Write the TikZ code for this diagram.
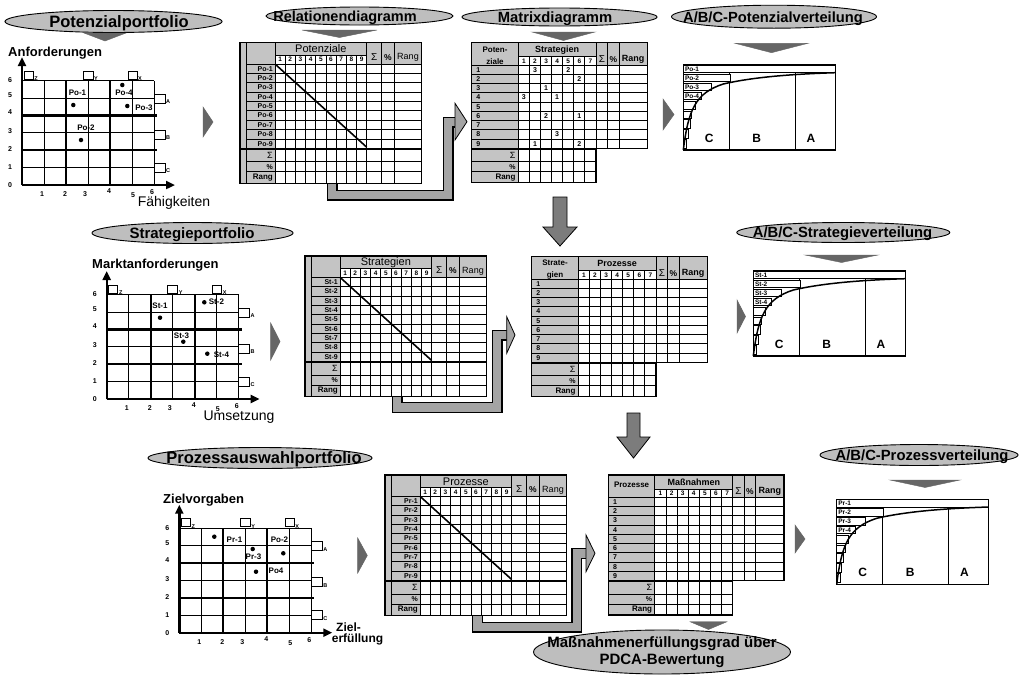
\documentclass[tikz,border=0pt]{standalone}
\usepackage{fontspec}
\setmainfont{Liberation Sans}
\usetikzlibrary{shapes.geometric,arrows.meta}
\definecolor{tgray}{HTML}{C4C4C4}
\definecolor{egray}{HTML}{BEBEBE}
\definecolor{dgray}{HTML}{666666}
\definecolor{agray}{HTML}{A4A4A4}
\definecolor{mgray}{HTML}{7C7C7C}
\newcommand\fsz[1]{\fontsize{#1}{#1}\selectfont}
\tikzset{
  titleell/.style={ellipse, draw=black, line width=0.9pt, fill=egray, inner sep=0pt},
  ttext/.style={inner sep=0pt, anchor=base, font=\fsz{15}\bfseries},
  tri/.style={fill=dgray, draw=black!60, line width=0.4pt},
  chev/.style={fill=dgray, draw=black!60, line width=0.5pt},
  blockarrow/.style={fill=mgray, draw=black, line width=0.8pt},
  tick/.style={font=\fsz{7}\bfseries, inner sep=0pt},
  plab/.style={font=\fsz{8}\bfseries, inner sep=0pt},
  axlab/.style={font=\fsz{13}\bfseries, inner sep=0pt},
  axlabr/.style={font=\fsz{14}, inner sep=0pt},
  pdot/.style={circle, fill=black, inner sep=0pt, minimum size=4.5pt},
  sq/.style={draw=black, fill=white, line width=0.9pt},
  sqlab/.style={font=\fsz{5.5}\bfseries, inner sep=0pt},
  tline/.style={line width=0.9pt},
  gline/.style={line width=0.7pt},
  thk/.style={line width=2.2pt},
  cell/.style={font=\fsz{7}\bfseries, inner sep=0pt},
  hdr/.style={font=\fsz{9}\bfseries, inner sep=0pt},
  barlab/.style={font=\fsz{6.5}\bfseries, inner sep=0pt, anchor=west},
  abclab/.style={font=\fsz{12}\bfseries, inner sep=0pt},
  bandout/.style={line width=11pt, draw=black, line join=miter},
  bandin/.style={line width=8.4pt, draw=agray, line join=miter},
  headarrow/.style={fill=agray, draw=black, line width=0.8pt},
}
% ---------- portfolio ----------
\newcommand\portfolio[1]{%
  \foreach \i in {0,...,6} {\draw[gline] ({\i*22},0) -- ({\i*22},-104.4);}
  \foreach \j in {0,...,6} {\draw[gline] (0,{-\j*17.4}) -- (132,{-\j*17.4});}
  \draw[thk] (44,0) -- (44,-104.4);
  \draw[thk] (88,0) -- (88,-104.4);
  \draw[thk] (0,-34.8) -- (135,-34.8);
  \draw[thk] (0,-69.6) -- (135,-69.6);
  \draw[line width=2.4pt,-{Triangle[length=9pt,width=8pt]}] (0,0) -- (153,0);
  \draw[line width=2.4pt,-{Triangle[length=9pt,width=8pt]}] (0,0) -- (0,-128);
  \foreach \v/\yy in {0/0,1/-18,2/-36,3/-54,4/-73,5/-90,6/-105} {\node[tick] (#1-y\v) at (-12,\yy) {\v};}
  \foreach \v/\xx/\yy in {1/20/9,2/43/9,3/63/9,4/87/6,5/111/10,6/130/7} {\node[tick] (#1-x\v) at (\xx,\yy) {\v};}
  \draw[sq] (2,-114) rectangle (11,-106); \node[sqlab] (#1-sz) at (14,-106.5) {Z};
  \draw[sq] (61,-114) rectangle (71,-106); \node[sqlab] (#1-sy) at (74,-106.5) {Y};
  \draw[sq] (106,-114) rectangle (115,-106); \node[sqlab] (#1-sx) at (118,-106.5) {X};
  \draw[sq] (132,-91) rectangle (143,-82); \node[sqlab] (#1-sa) at (146,-83.5) {A};
  \draw[sq] (132,-55) rectangle (143,-46); \node[sqlab] (#1-sb) at (146,-47.5) {B};
  \draw[sq] (132,-22) rectangle (143,-13); \node[sqlab] (#1-sc) at (146,-14.5) {C};
}
% ---------- relation table ----------
\newcommand\reltable[3]{%
  \fill[tgray] (0,0) rectangle (181.7,140.6);
  \fill[white] (35,12.3) rectangle (126.7,140.6);
  \fill[white] (126.7,21.3) rectangle (181.7,140.6);
  \foreach \j in {0,...,8} {\draw[tline] (6,{21.3+\j*9.37}) -- (181.7,{21.3+\j*9.37});}
  \draw[line width=1.8pt] (0,106) -- (181.7,106);
  \draw[tline] (6,119) -- (181.7,119);
  \draw[tline] (6,129) -- (181.7,129);
  \draw[tline] (35,12.3) -- (126.7,12.3);
  \draw[tline] (6,0) -- (6,140.6);
  \draw[tline] (35,0) -- (35,140.6);
  \foreach \i in {1,...,8} {\draw[tline] ({35+\i*10.19},12.3) -- ({35+\i*10.19},140.6);}
  \foreach \xx in {126.7,141.7,154.3} {\draw[tline] (\xx,0) -- (\xx,140.6);}
  \draw[line width=1.3pt] (0,0) rectangle (181.7,140.6);
  \draw[line width=1.6pt] (35,21.3) -- (126.7,104.5);
  \node[font=\fsz{11}, inner sep=0pt] (#1-title) at (80.85,6.3) {#2};
  \foreach \i in {1,...,9} {\node[font=\fsz{6.5}\bfseries, inner sep=0pt] (#1-n\i) at ({35+(\i-0.5)*10.19},16.9) {\i};}
  \node[font=\fsz{10}, inner sep=0pt] (#1-sum) at (134.2,14) {Σ};
  \node[font=\fsz{8.5}\bfseries, inner sep=0pt] (#1-pct) at (148,15) {\%};
  \node[font=\fsz{9}, inner sep=0pt] (#1-rang) at (168,15) {Rang};
  \foreach \j in {1,...,9} {\node[cell, anchor=east] (#1-r\j) at (33,{21.3+(\j-0.5)*9.37}) {#3-\j};}
  \node[font=\fsz{9}, anchor=east, inner sep=0pt] (#1-bs) at (33,112.8) {Σ};
  \node[cell, anchor=east] (#1-bp) at (33,124) {\%};
  \node[font=\fsz{8}\bfseries, anchor=east, inner sep=0pt] (#1-br) at (33,135) {Rang};
}
% ---------- matrix table ----------
\newcommand\mattable[4]{%
  \fill[tgray] (0,0) -- (175.6,0) -- (175.6,105.6) -- (124.3,105.6) -- (124.3,140) -- (0,140) -- cycle;
  \fill[white] (46.6,14) rectangle (124.3,140);
  \fill[white] (124.3,22.3) rectangle (175.6,105.6);
  \foreach \j in {0,...,8} {\draw[tline] (0,{22.3+\j*9.26}) -- (175.6,{22.3+\j*9.26});}
  \draw[line width=1.8pt] (0,106.3) -- (124.3,106.3);
  \draw[tline] (0,119) -- (124.3,119);
  \draw[tline] (0,129) -- (124.3,129);
  \draw[tline] (46.6,14) -- (124.3,14);
  \draw[tline] (46.6,0) -- (46.6,140);
  \foreach \i in {1,...,6} {\draw[tline] ({46.6+\i*11.1},14) -- ({46.6+\i*11.1},140);}
  \draw[tline] (124.3,0) -- (124.3,140);
  \draw[tline] (136,0) -- (136,105.6);
  \draw[tline] (147.3,0) -- (147.3,105.6);
  \draw[line width=1.3pt] (0,0) -- (175.6,0) -- (175.6,105.6) -- (124.3,105.6) -- (124.3,140) -- (0,140) -- cycle;
  \node[font=\fontsize{8}{11.5}\selectfont\bfseries, align=center, inner sep=0pt] (#1-head) at (23.3,#3) {#2};
  \node[hdr] (#1-title) at (85.45,7) {#4};
  \foreach \i in {1,...,7} {\node[font=\fsz{6.5}\bfseries, inner sep=0pt] (#1-n\i) at ({46.6+(\i-0.5)*11.1},18.3) {\i};}
  \node[font=\fsz{10}, inner sep=0pt] (#1-sum) at (130.2,16) {Σ};
  \node[font=\fsz{8.5}\bfseries, inner sep=0pt] (#1-pct) at (141.7,16.5) {\%};
  \node[hdr] (#1-rang) at (161.5,16.5) {Rang};
  \foreach \j in {1,...,9} {\node[cell, anchor=west] (#1-r\j) at (4.5,{22.3+(\j-0.5)*9.26}) {\j};}
  \node[font=\fsz{9}, anchor=east, inner sep=0pt] (#1-bs) at (44,112.8) {Σ};
  \node[cell, anchor=east] (#1-bp) at (44,124) {\%};
  \node[font=\fsz{8}\bfseries, anchor=east, inner sep=0pt] (#1-br) at (44,135) {Rang};
}
% ---------- ABC chart ----------
\newcommand\abcchart[2]{%
  \draw[line width=1.1pt] (0,0) rectangle (152,85);
  \draw[tline] (0,7.7) -- (152,7.7);
  \draw[tline] (46,7.7) -- (46,85);
  \draw[tline] (112,7.7) -- (112,85);
  \foreach \ya/\xb/\yb in {9/46.7/16.7, 18.3/28.4/25.7, 27.3/18.4/34.3, 36/11.7/44.3, 46/8.4/53.3, 54.3/6.7/63.3, 64.3/5/73.3, 74.3/3.3/83.3} {\draw[fill=white, line width=0.8pt] (0,\ya) rectangle (\xb,\yb);}
  \node[barlab] (#1-b1) at (1.5,3.9) {#2-1};
  \node[barlab] (#1-b2) at (1.5,12.9) {#2-2};
  \node[barlab] (#1-b3) at (1.5,22) {#2-3};
  \node[barlab] (#1-b4) at (1.5,30.8) {#2-4};
  \draw[line width=1.5pt] (0,85) .. controls (5,45) and (12,28) .. (40,19) .. controls (70,12) and (110,9) .. (152,7.7);
  \node[abclab] (#1-c) at (26,73) {C};
  \node[abclab] (#1-b) at (73.4,73) {B};
  \node[abclab] (#1-a) at (127.7,73) {A};
}
\begin{document}
\begin{tikzpicture}[x=1pt,y=-1pt]
\fill[white] (0,0) rectangle (1022,675);
\useasboundingbox (0,0) rectangle (1022,675);

% ---- titles ----
\node[titleell, minimum width=217pt, minimum height=22pt] (e1) at (113.5,21.5) {};
\node[ttext, font=\fsz{16.5}\bfseries] (t1) at (119,27.3) {Potenzialportfolio};
\node[titleell, minimum width=187pt, minimum height=18pt] (e2) at (359.5,16) {};
\node[ttext, font=\fsz{14.5}\bfseries] (t2) at (345,21.5) {Relationendiagramm};
\node[titleell, minimum width=195pt, minimum height=18pt] (e3) at (559.5,17) {};
\node[ttext, font=\fsz{14.8}\bfseries] (t3) at (555,22.5) {Matrixdiagramm};
\node[titleell, minimum width=205pt, minimum height=23pt] (e4) at (774,16.7) {};
\node[ttext, font=\fsz{14.7}\bfseries] (t4) at (773,22) {A/B/C-Potenzialverteilung};
\node[titleell, minimum width=201pt, minimum height=21pt] (e5) at (192.5,233) {};
\node[ttext] (t5) at (192,238.4) {Strategieportfolio};
\node[titleell, minimum width=213pt, minimum height=20pt] (e6) at (843.3,232.5) {};
\node[ttext, font=\fsz{14.8}\bfseries] (t6) at (842.5,237.8) {A/B/C-Strategieverteilung};
\node[titleell, minimum width=224pt, minimum height=21pt] (e7) at (260,458) {};
\node[ttext, font=\fsz{16.5}\bfseries] (t7) at (264,463.9) {Prozessauswahlportfolio};
\node[titleell, minimum width=198pt, minimum height=21pt] (e8) at (919,455) {};
\node[ttext, font=\fsz{14.8}\bfseries] (t8) at (922,460.3) {A/B/C-Prozessverteilung};
\node[titleell, minimum width=257pt, minimum height=44pt] (e9) at (662,652) {};
\node[inner sep=0pt, align=center, font=\fontsize{15}{16.5}\selectfont\bfseries] (t9) at (662,652) {Maßnahmenerfüllungsgrad über\\PDCA-Bewertung};

% ---- title triangles ----
\filldraw[tri] (84,33) -- (126,33) -- (105,41) -- cycle;
\filldraw[tri] (302,30) -- (377,30) -- (339.5,37.5) -- cycle;
\filldraw[tri] (532,32) -- (595,32) -- (563.5,40.5) -- cycle;
\filldraw[tri] (735,43.3) -- (808,43.3) -- (771.5,52.7) -- cycle;
\filldraw[tri] (805,255) -- (878,255) -- (841.5,262.5) -- cycle;
\filldraw[tri] (890,480) -- (960,480) -- (925,487.5) -- cycle;
\filldraw[tri] (690,621.7) -- (727,621.7) -- (708.5,629.5) -- cycle;

% ---- chevrons ----
\filldraw[chev] (203,107) -- (213,122) -- (203,137) -- cycle;
\filldraw[chev] (663,99) -- (674,114.5) -- (663,130) -- cycle;
\filldraw[chev] (270.7,323) -- (280,341.5) -- (270.7,360) -- cycle;
\filldraw[chev] (737,300) -- (745.5,316.5) -- (737,333) -- cycle;
\filldraw[chev] (357.7,538) -- (367.3,555.5) -- (357.7,573) -- cycle;
\filldraw[chev] (795,525) -- (805,539) -- (795,553) -- cycle;

% ---- block down arrows ----
\filldraw[blockarrow] (553,197) -- (567,197) -- (567,227) -- (577,227) -- (560,246) -- (543,227) -- (553,227) -- cycle;
\filldraw[blockarrow] (627,413) -- (640,413) -- (640,437) -- (650,437) -- (633.5,458) -- (617,437) -- (627,437) -- cycle;

% ---- portfolios ----
\begin{scope}[shift={(22,185)}]
  \portfolio{pa}
  \node[axlab, anchor=west] (pa-ylab) at (-14,-132) {Anforderungen};
  \node[axlabr] (pa-xlab) at (152,17.5) {Fähigkeiten};
  \node[pdot] (pa-d1) at (51.3,-80) {};
  \node[plab] (pa-l1) at (55.5,-92) {Po-1};
  \node[pdot] (pa-d4) at (100.3,-100) {};
  \node[plab] (pa-l4) at (102,-92) {Po-4};
  \node[pdot] (pa-d3) at (105.3,-79) {};
  \node[plab] (pa-l3) at (122,-77) {Po-3};
  \node[pdot] (pa-d2) at (59,-45) {};
  \node[plab] (pa-l2) at (64,-57) {Po-2};
\end{scope}
\begin{scope}[shift={(106.7,399)}]
  \portfolio{pb}
  \node[axlab, anchor=west] (pb-ylab) at (-14.7,-134) {Marktanforderungen};
  \node[axlabr] (pb-xlab) at (132.3,18.5) {Umsetzung};
  \node[pdot] (pb-d1) at (53.3,-81.3) {};
  \node[plab] (pb-l1) at (53.3,-93) {St-1};
  \node[pdot] (pb-d2) at (97.6,-96.7) {};
  \node[plab, anchor=west] (pb-l2) at (102,-97) {St-2};
  \node[pdot] (pb-d3) at (76.6,-57.3) {};
  \node[plab] (pb-l3) at (74.8,-63) {St-3};
  \node[pdot] (pb-d4) at (100.6,-45.3) {};
  \node[plab, anchor=west] (pb-l4) at (107,-44) {St-4};
\end{scope}
\begin{scope}[shift={(179.3,632.7)}]
  \portfolio{pc}
  \node[axlab, anchor=west] (pc-ylab) at (-16.3,-132.7) {Zielvorgaben};
  \node[axlab, anchor=west, font=\fsz{12}\bfseries] (pc-xl1) at (156.7,-6) {Ziel-};
  \node[axlab, anchor=west, font=\fsz{12}\bfseries] (pc-xl2) at (152.4,7) {erfüllung};
  \node[pdot] (pc-d1) at (35,-96) {};
  \node[plab] (pc-l1) at (55.2,-92.7) {Pr-1};
  \node[plab] (pc-l2) at (100.2,-92.7) {Po-2};
  \node[pdot] (pc-d3) at (73.4,-83.7) {};
  \node[plab] (pc-l3) at (74.2,-76) {Pr-3};
  \node[pdot] (pc-d2) at (104,-79.4) {};
  \node[pdot] (pc-d4) at (76.7,-61) {};
  \node[plab] (pc-l4) at (96.7,-61.7) {Po4};
\end{scope}

% ---- L bands (drawn before tables) ----
\draw[bandout] (332,183) -- (332,195) -- (448,195) -- (448,122) -- (456,122);
\draw[bandin] (332,183) -- (332,195) -- (448,195) -- (448,122) -- (456,122);
\filldraw[headarrow] (455,103.3) -- (467,121.7) -- (455,140) -- cycle;
\draw[bandout] (397,396) -- (397,407.5) -- (497,407.5) -- (497,335) -- (507.5,335);
\draw[bandin] (397,396) -- (397,407.5) -- (497,407.5) -- (497,335) -- (507.5,335);
\filldraw[headarrow] (506.7,316.7) -- (515,335) -- (506.7,353.3) -- cycle;
\draw[bandout] (477.5,615) -- (477.5,627) -- (576.7,627) -- (576.7,553.3) -- (587,553.3);
\draw[bandin] (477.5,615) -- (477.5,627) -- (576.7,627) -- (576.7,553.3) -- (587,553.3);
\filldraw[headarrow] (586,535) -- (595,553.3) -- (586,571.7) -- cycle;

% ---- relation tables ----
\begin{scope}[shift={(240,42.7)}]
  \reltable{ra}{Potenziale}{Po}
\end{scope}
\begin{scope}[shift={(305,256)}]
  \reltable{rb}{Strategien}{St}
\end{scope}
\begin{scope}[shift={(385,475)}]
  \reltable{rc}{Prozesse}{Pr}
\end{scope}

% ---- matrix tables ----
\begin{scope}[shift={(471.7,42.7)}]
  \mattable{ma}{Poten-\\ziale}{13}{Strategien}
  \foreach \c/\r/\v in {2/1/3,5/1/2,6/2/2,3/3/1,1/4/3,4/4/1,3/6/2,6/6/1,4/8/3,2/9/1,6/9/2}
    {\node[cell] (ma-v\c\r) at ({46.6+(\c-0.5)*11.1},{22.3+(\r-0.5)*9.26}) {\v};}
\end{scope}
\begin{scope}[shift={(531.7,256.7)}]
  \mattable{mb}{Strate-\\gien}{13}{Prozesse}
\end{scope}
\begin{scope}[shift={(608.3,475)}]
  \mattable{mc}{Prozesse}{10}{Maßnahmen}
\end{scope}

% ---- ABC charts ----
\begin{scope}[shift={(683.3,65)}]
  \abcchart{aa}{Po}
\end{scope}
\begin{scope}[shift={(753.3,271)}]
  \abcchart{ab}{St}
\end{scope}
\begin{scope}[shift={(836.7,499.3)}]
  \abcchart{ac}{Pr}
\end{scope}
\end{tikzpicture}
\end{document}
